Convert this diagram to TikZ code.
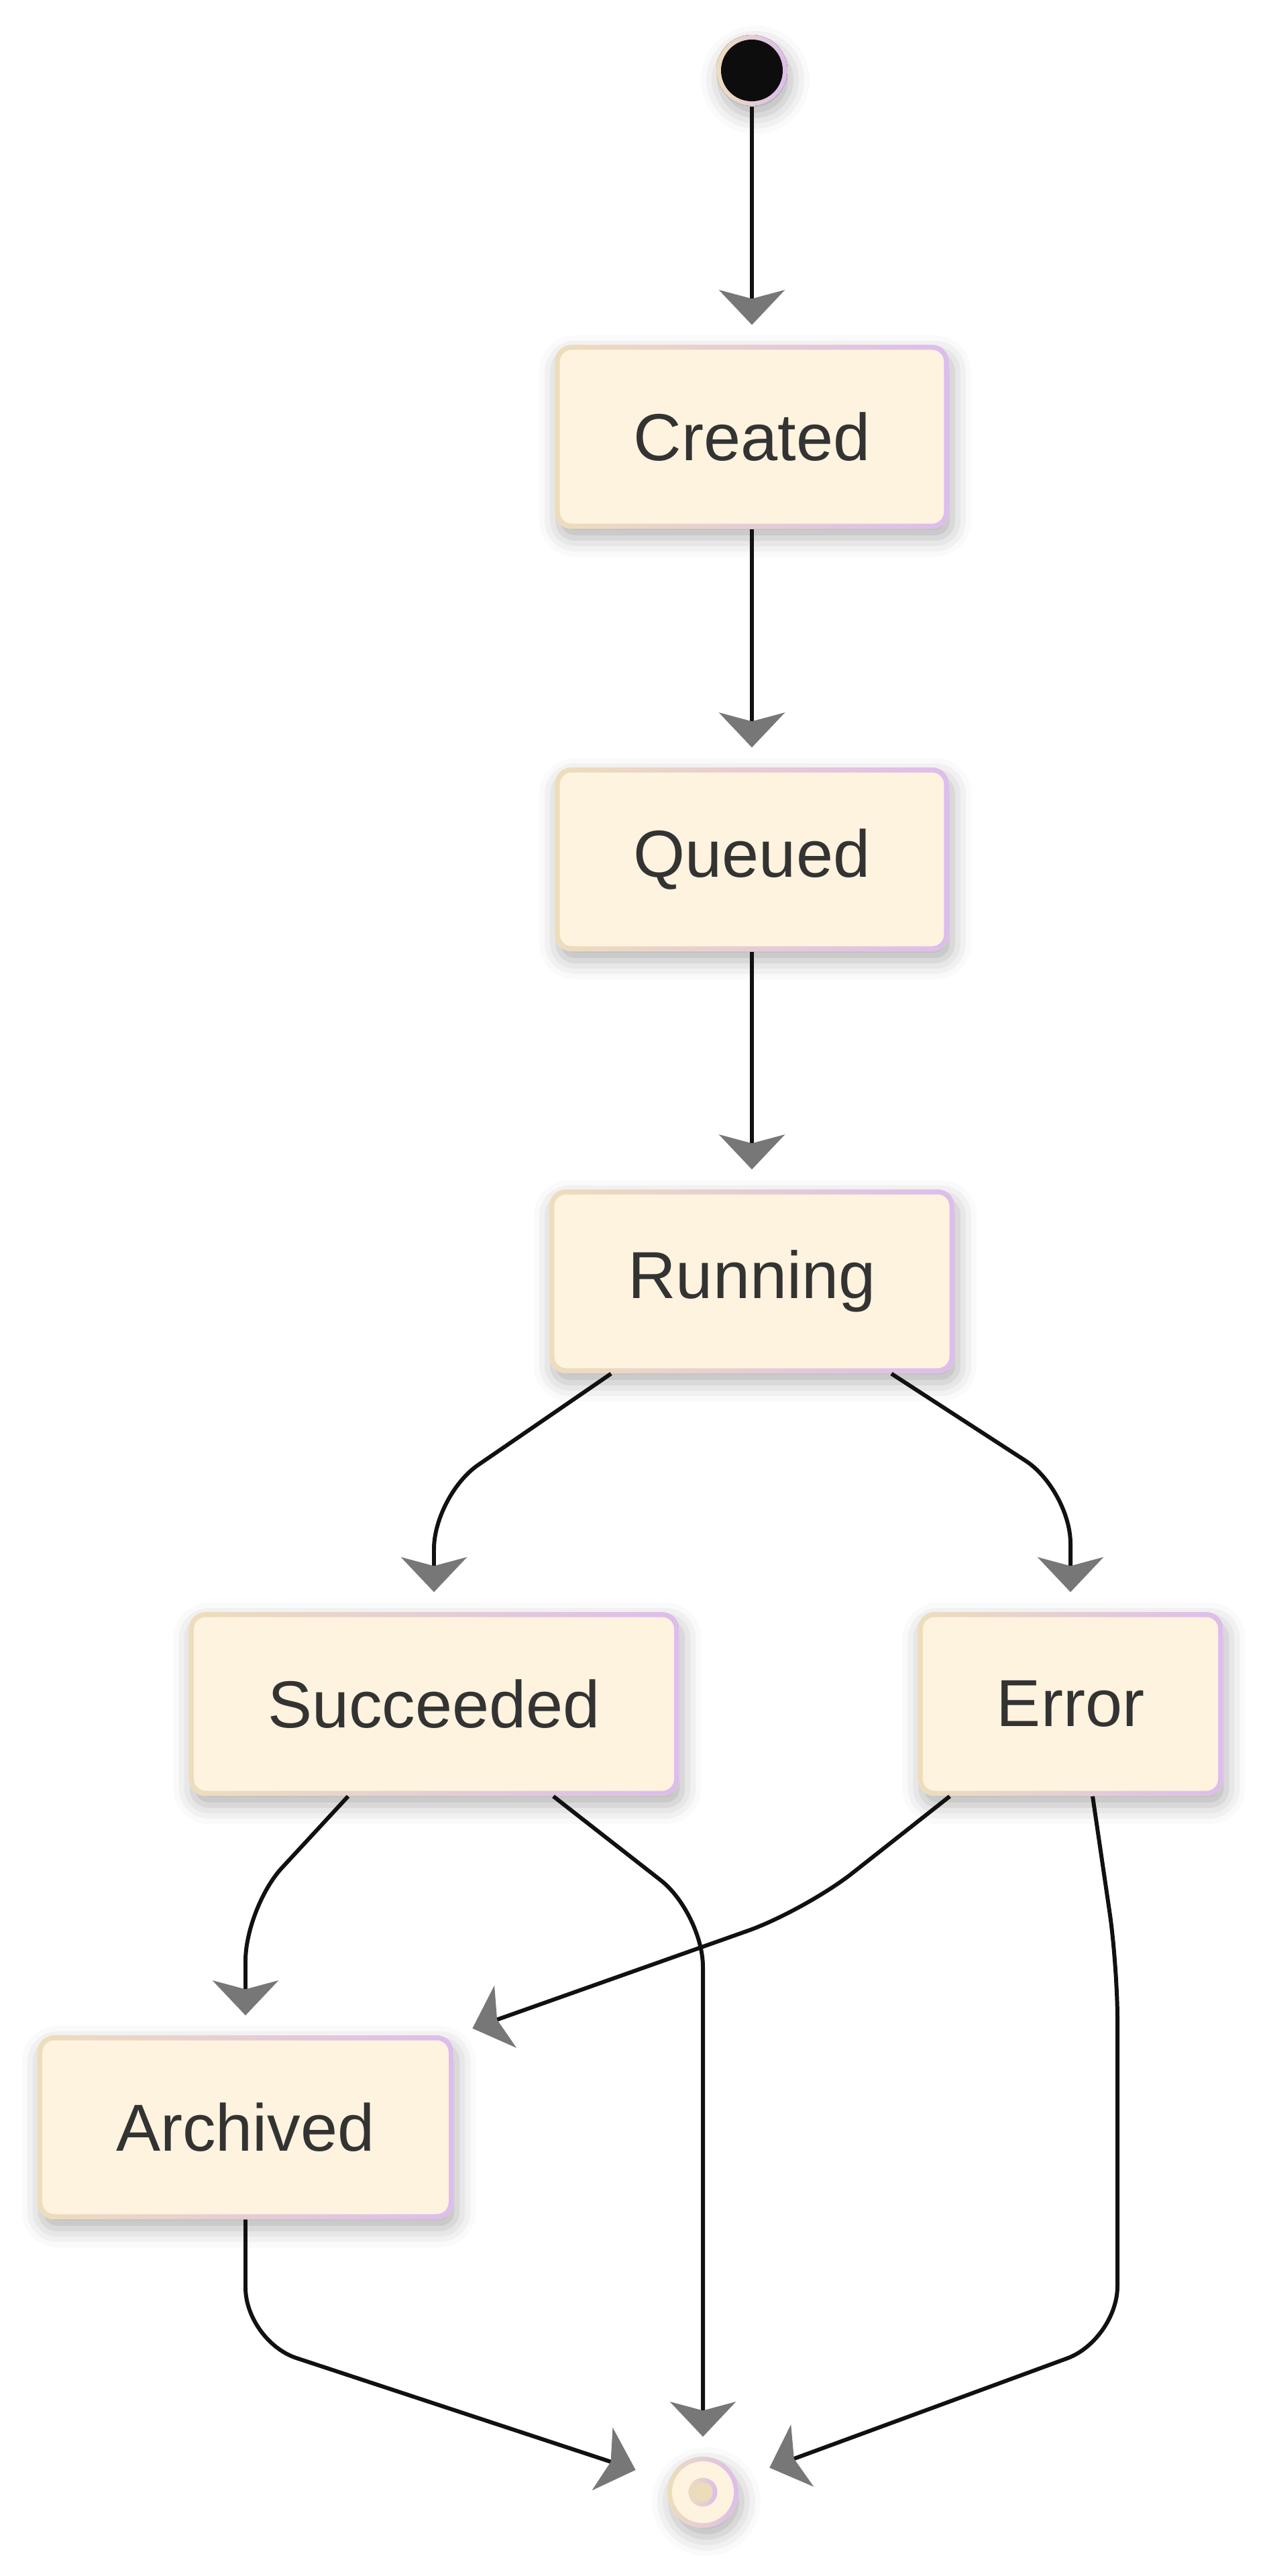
\documentclass[tikz,border=0pt]{standalone}
\usepackage{fontspec}
\setmainfont{Liberation Sans}
\usetikzlibrary{arrows.meta,shadows.blur}

\definecolor{statefill}{HTML}{FEF3DE}
\definecolor{borderl}{HTML}{EDDDBC}
\definecolor{borderr}{HTML}{DDBDEC}
\definecolor{arrowgray}{HTML}{777777}
\definecolor{linecol}{HTML}{111111}
\definecolor{textcol}{HTML}{333333}
\definecolor{endcore}{HTML}{EDDCBA}

\tikzset{
  softshadow/.style={blur shadow={shadow xshift=0.05cm, shadow yshift=-0.14cm, shadow blur radius=0.28cm, shadow opacity=30}},
  statebox/.style={rounded corners=0.25cm, fill=statefill, inner xsep=1.175cm, minimum height=2.74cm,
    text=textcol, font=\fontsize{28.2}{34}\selectfont, softshadow,
    path picture={
      \shade[left color=borderl, right color=borderr] (path picture bounding box.south west) rectangle (path picture bounding box.north east);
      \fill[statefill, rounded corners=0.18cm] ([shift={(0.075,0.075)}]path picture bounding box.south west) rectangle ([shift={(-0.075,-0.075)}]path picture bounding box.north east);
    }},
  startdot/.style={circle, minimum size=1.06cm, inner sep=0pt, fill=black, softshadow,
    path picture={
      \shade[left color=borderl, right color=borderr] (path picture bounding box.south west) rectangle (path picture bounding box.north east);
      \fill[black!95] (path picture bounding box.center) circle (0.46cm);
    }},
  enddot/.style={circle, minimum size=1.06cm, inner sep=0pt, fill=statefill, softshadow,
    path picture={
      \shade[left color=borderl, right color=borderr] (path picture bounding box.south west) rectangle (path picture bounding box.north east);
      \fill[statefill] (path picture bounding box.center) circle (0.46cm);
      \shade[left color=borderl, right color=borderr] (path picture bounding box.center) circle (0.215cm);
      \fill[endcore] (path picture bounding box.center) circle (0.145cm);
    }},
  trans/.style={line width=1.7pt, draw=linecol, shorten >=0.29cm,
    -{Stealth[length=0.52cm, width=0.98cm, inset=0.13cm, color=arrowgray]}}
}

\begin{document}
\begin{tikzpicture}
    \useasboundingbox (0, 0) rectangle (18.88, -38.40);

    \node[startdot] (start) at (11.21, -1.05) {};
    \node[statebox] (created) at (11.21, -6.51) {Created};
    \node[statebox] (queued) at (11.21, -12.81) {Queued};
    \node[statebox] (running) at (11.21, -19.10) {Running};
    \node[statebox] (succeeded) at (6.47, -25.40) {Succeeded};
    \node[statebox] (error) at (15.96, -25.40) {Error};
    \node[statebox] (archived) at (3.66, -31.71) {Archived};
    \node[enddot] (end) at (10.48, -37.15) {};

    \draw[trans] (start) -- (created);
    \draw[trans] (created) -- (queued);
    \draw[trans] (queued) -- (running);

    \draw[trans, rounded corners=0.8cm] ([xshift=-2.1cm]running.south) -- (6.47, -22.29) -- (succeeded);
    \draw[trans, rounded corners=0.8cm] ([xshift=2.08cm]running.south) -- (15.96, -22.21) -- (error);

    \draw[trans, rounded corners=0.8cm] ([xshift=-1.28cm]succeeded.south) -- (3.66, -28.43) -- (archived);
    \draw[trans, rounded corners=0.8cm] ([xshift=1.78cm]succeeded.south) -- (10.48, -28.52) -- (end);
    \draw[trans, rounded corners=0.9cm] ([xshift=-1.8cm]error.south) -- (12.0, -28.48) -- (archived.north east);
    \draw[trans, rounded corners=0.8cm, shorten >=0.52cm] ([xshift=0.33cm]error.south) -- (16.66, -29.3) -- (16.66, -34.88) -- (end);
    \draw[trans, rounded corners=0.8cm, shorten >=0.52cm] (archived.south) -- (3.66, -34.90) -- (end);
  \end{tikzpicture}
\end{document}
